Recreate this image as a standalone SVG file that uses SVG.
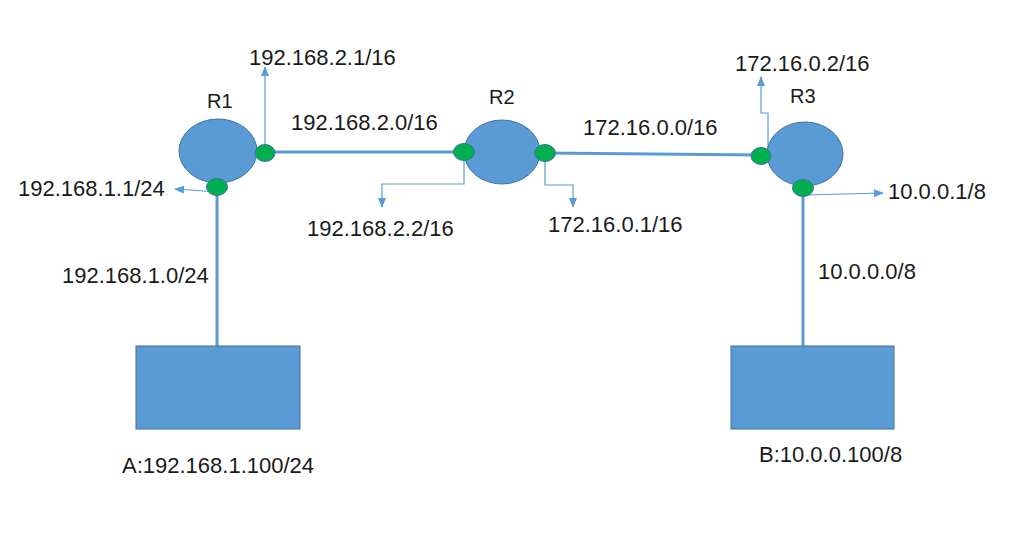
<svg xmlns="http://www.w3.org/2000/svg" width="1020" height="545" viewBox="0 0 1020 545">
<style>
text{font-family:"Liberation Sans",Arial,sans-serif;fill:#1a1a1a}
.ip{font-size:22px}
.rl{font-size:20px}
.router{fill:#5B9BD5;stroke:#41719C;stroke-width:1}
.port{fill:#00B050;stroke:#41719C;stroke-width:1}
.host{fill:#5B9BD5;stroke:#41719C;stroke-width:1}
.link{stroke:#5B9BD5;stroke-width:3;fill:none}
.ptr{stroke:#5B9BD5;stroke-width:1.2;fill:none;marker-end:url(#ah)}
</style>
<defs>
<marker id="ah" markerWidth="10" markerHeight="8" refX="9" refY="4" orient="auto" markerUnits="userSpaceOnUse">
<path d="M0,0 L10,4 L0,8 Z" fill="#5B9BD5"/>
</marker>
</defs>
<rect width="1020" height="545" fill="#fff"/>
<g id="connectors">
<line class="link" x1="265" y1="152" x2="464" y2="152"/>
<line class="link" x1="545" y1="153" x2="761" y2="155"/>
<line class="link" x1="217" y1="187" x2="217" y2="346"/>
<line class="link" x1="803" y1="188" x2="803" y2="346"/>
<polyline class="ptr" points="265,152 265,67"/>
<polyline class="ptr" points="217,192 175,189"/>
<polyline class="ptr" points="464,152 464,184 382,184 382,207"/>
<polyline class="ptr" points="545,153 545,185 573,185 573,207"/>
<polyline class="ptr" points="768,150 768,113 761,113 761,77"/>
<polyline class="ptr" points="805,195 883,193"/>
</g>
<g id="R1">
<ellipse class="router" cx="218" cy="151" rx="39" ry="32"/>
<text class="rl" x="207" y="108">R1</text>
</g>
<g id="R2">
<ellipse class="router" cx="502" cy="152" rx="38" ry="32"/>
<text class="rl" x="489" y="104">R2</text>
</g>
<g id="R3">
<ellipse class="router" cx="805" cy="154" rx="38" ry="32"/>
<text class="rl" x="790" y="103">R3</text>
</g>
<g id="R1-port-e"><ellipse class="port" cx="265" cy="153" rx="10" ry="8.5"/></g>
<g id="R1-port-s"><ellipse class="port" cx="217" cy="187" rx="10.5" ry="8.5"/></g>
<g id="R2-port-w"><ellipse class="port" cx="464" cy="152" rx="10.5" ry="8.5"/></g>
<g id="R2-port-e"><ellipse class="port" cx="545" cy="153" rx="10.5" ry="8.5"/></g>
<g id="R3-port-w"><ellipse class="port" cx="761" cy="156" rx="10" ry="8.5"/></g>
<g id="R3-port-s"><ellipse class="port" cx="803" cy="188" rx="10.5" ry="8.5"/></g>
<g id="hostA">
<rect class="host" x="136" y="346" width="164" height="83"/>
<text class="ip" x="122" y="473">A:192.168.1.100/24</text>
</g>
<g id="hostB">
<rect class="host" x="731" y="346" width="163" height="83"/>
<text class="ip" x="759" y="462">B:10.0.0.100/8</text>
</g>
<g id="labels">
<text class="ip" x="249" y="65">192.168.2.1/16</text>
<text class="ip" x="291" y="130">192.168.2.0/16</text>
<text class="ip" x="583" y="135">172.16.0.0/16</text>
<text class="ip" x="735" y="71">172.16.0.2/16</text>
<text class="ip" x="18" y="196">192.168.1.1/24</text>
<text class="ip" x="307" y="236">192.168.2.2/16</text>
<text class="ip" x="548" y="232">172.16.0.1/16</text>
<text class="ip" x="888" y="199">10.0.0.1/8</text>
<text class="ip" x="62" y="283">192.168.1.0/24</text>
<text class="ip" x="818" y="279">10.0.0.0/8</text>
</g>
</svg>
